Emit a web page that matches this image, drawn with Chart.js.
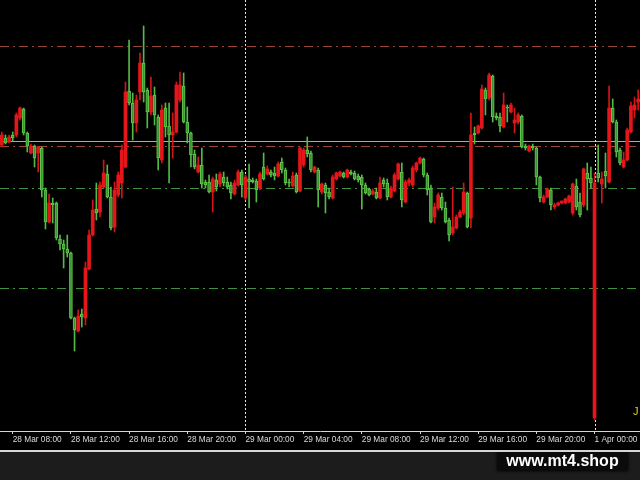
<!DOCTYPE html>
<html>
<head>
<meta charset="utf-8">
<script src="https://cdn.jsdelivr.net/npm/chart.js@4.4.0/dist/chart.umd.min.js"></script>
<style>
html, body { margin: 0; padding: 0; width: 640px; height: 480px; overflow: hidden; background: #1c1c1c; }
#wrap { position: absolute; left: 0; top: 0; width: 640px; height: 450px; background: #000; }
#sep { position: absolute; left: 0; top: 450px; width: 640px; height: 2px; background: #d6d6d6; z-index: 2; }
#mark { position: absolute; left: 497px; top: 451px; width: 131px; height: 19px; background: #0b0b0b; color: #fff;
        font: bold 16px "Liberation Sans", Arial, sans-serif; line-height: 19px; text-align: center; z-index: 1;
        box-shadow: 0 1px 3px #000; }
</style>
</head>
<body>
<div id="wrap"><canvas id="chart" width="640" height="450"></canvas></div>
<div id="sep"></div>
<div id="mark">www.mt4.shop</div>
<script>
// M15 bars, 28 Mar 07:15 -> 1 Apr 03:00 (prices in chart units)
const opens = [286,293,289,296,296,313,322,298,278,285,278,283,241,209,228,228,192,187,182,178,
  113,100,117,113,162,196,222,219,244,257,234,204,236,248,264,340,328,308,339,368,
  341,319,336,314,271,323,305,296,299,331,345,309,298,277,259,266,249,249,239,251,
  247,254,249,246,237,246,259,233,252,251,250,243,264,257,259,258,255,269,261,249,
  245,256,240,266,281,278,259,261,239,246,239,233,252,255,258,254,259,258,255,254,
  246,242,237,239,233,251,248,234,240,252,259,229,248,246,261,268,272,256,243,214,
  223,234,223,211,198,203,214,218,238,213,298,298,303,341,333,355,315,314,304,324,
  319,308,309,315,285,280,285,283,254,229,234,241,224,226,228,228,229,218,245,229,
  226,258,253,13,258,247,260,249,323,309,281,264,271,299,321,329];
const highs = [299,296,296,299,318,324,323,299,287,286,285,284,243,237,233,229,196,191,196,179,
  114,121,122,169,201,231,248,249,271,266,244,249,259,286,349,391,338,336,378,405,
  343,354,344,316,326,328,328,318,349,359,358,324,299,281,274,283,251,256,254,257,
  259,259,254,249,251,261,261,256,267,253,252,259,278,265,261,264,269,273,263,252,
  259,258,284,283,294,280,265,263,248,248,243,256,259,260,259,262,261,260,257,256,
  248,243,242,243,254,253,252,245,258,268,268,251,253,265,269,274,273,258,246,228,
  238,238,229,213,244,216,221,248,239,318,304,306,346,343,358,356,318,318,338,326,
  328,323,318,316,287,286,287,284,255,236,243,243,228,229,230,233,236,248,252,238,
  263,268,264,258,286,259,278,345,332,311,283,279,303,329,334,341];
const lows = [284,287,288,290,294,311,296,279,277,264,259,234,202,208,208,191,181,163,174,112,
  80,99,104,106,161,195,211,214,243,233,201,199,234,233,263,326,291,299,331,329,
  303,316,306,261,268,294,248,273,298,329,308,288,264,262,258,243,243,238,219,240,
  244,245,242,232,236,245,234,231,223,248,229,241,251,256,254,251,254,258,246,244,
  244,238,239,264,274,259,258,224,237,218,232,232,251,254,253,253,256,251,249,222,
  237,235,236,232,232,244,231,233,239,251,224,228,245,244,259,267,254,236,208,208,
  221,221,208,190,196,202,213,216,203,203,287,297,302,316,331,309,311,299,303,309,
  318,298,307,283,281,279,281,246,229,228,233,221,222,225,227,227,228,216,221,214,
  224,221,243,11,249,228,243,248,308,274,266,263,270,298,313,321];
const closes = [296,288,294,293,316,323,298,285,285,273,284,241,209,228,226,193,187,182,178,113,
  101,115,114,163,196,221,218,246,258,234,203,241,256,281,339,328,308,331,368,339,
  319,335,316,273,321,304,296,299,346,346,309,298,276,264,266,247,246,239,252,244,
  257,248,244,238,248,259,246,254,249,249,241,257,252,262,256,255,267,261,248,248,
  255,239,283,281,277,261,264,241,247,238,234,254,258,259,254,261,257,252,251,246,
  238,236,240,233,248,247,234,243,256,267,231,249,251,263,268,273,256,241,209,224,
  236,223,209,196,204,214,219,239,204,296,296,305,342,332,356,314,313,305,326,323,
  326,311,316,284,283,285,283,254,233,234,242,226,226,228,230,232,235,247,224,216,
  262,252,248,248,253,252,255,323,309,279,268,271,301,325,326,332];

const tickLabels = ['28 Mar 08:00', '28 Mar 12:00', '28 Mar 16:00', '28 Mar 20:00', '29 Mar 00:00',
  '29 Mar 04:00', '29 Mar 08:00', '29 Mar 12:00', '29 Mar 16:00', '29 Mar 20:00', '1 Apr 00:00'];
const tickFirst = 3, tickStep = 16;           // bar index of the first label, bars per label
const dayBreaks = ['29 Mar 00:00', '1 Apr 00:00'];

// horizontal objects
const redLevels = [385, 285];
const greenLevels = [243, 143];
const priceLine = 290;

const categories = opens.map((o, i) =>
  (i - tickFirst) % tickStep === 0 && i >= tickFirst ? tickLabels[(i - tickFirst) / tickStep] || '' : '');

const UP_FILL = '#e5161a', UP_WICK = '#d41418';
const DN_FILL = '#3b9434', DN_EDGE = '#62c84c', DN_WICK = '#52ba45';
const up = opens.map((o, i) => closes[i] >= o);

const overlay = {
  id: 'overlay',
  beforeDraw(chart) {
    const ctx = chart.ctx;
    ctx.save();
    ctx.fillStyle = '#000';
    ctx.fillRect(0, 0, chart.width, chart.height);
    ctx.restore();
  },
  beforeDatasetsDraw(chart) {
    const { ctx, chartArea: a, scales: { x, y } } = chart;
    ctx.save();
    ctx.lineWidth = 1;
    const hline = (v, color, dash) => {
      const py = Math.round(y.getPixelForValue(v)) + 0.5;
      ctx.strokeStyle = color;
      ctx.setLineDash(dash);
      ctx.beginPath();
      ctx.moveTo(a.left, py);
      ctx.lineTo(a.right, py);
      ctx.stroke();
    };
    redLevels.forEach(v => hline(v, '#9c4536', [9, 4, 2, 4]));
    greenLevels.forEach(v => hline(v, '#3c943a', [9, 4, 2, 4]));
    hline(priceLine, '#a9a9a9', []);

    // day separators
    ctx.strokeStyle = '#e6e6e6';
    ctx.setLineDash([2, 2]);
    dayBreaks.forEach(lbl => {
      const idx = categories.indexOf(lbl);
      const px = Math.round(x.getPixelForValue(idx)) + 0.5;
      ctx.beginPath();
      ctx.moveTo(px, a.top);
      ctx.lineTo(px, a.bottom);
      ctx.stroke();
    });
    ctx.restore();
  },
  afterDraw(chart) {
    const ctx = chart.ctx;
    ctx.save();
    ctx.fillStyle = '#e2cf1e';
    ctx.font = '11px "Liberation Sans", Arial, sans-serif';
    ctx.textBaseline = 'alphabetic';
    ctx.fillText('J', 633, 415);
    ctx.restore();
  }
};

new Chart(document.getElementById('chart'), {
  type: 'bar',
  data: {
    labels: categories,
    datasets: [
      {
        label: 'wick',
        data: highs.map((h, i) => [lows[i], h]),
        backgroundColor: up.map(u => u ? UP_WICK : DN_WICK),
        barThickness: 1,
        grouped: false,
        order: 2
      },
      {
        label: 'body',
        data: opens.map((o, i) => [Math.min(o, closes[i]), Math.max(o, closes[i])]),
        backgroundColor: up.map(u => u ? UP_FILL : DN_FILL),
        borderColor: up.map(u => u ? UP_FILL : DN_EDGE),
        borderWidth: up.map(u => u ? 0 : 1),
        borderSkipped: false,
        barThickness: 3,
        grouped: false,
        order: 1
      }
    ]
  },
  options: {
    responsive: false,
    animation: false,
    devicePixelRatio: 1,
    layout: { padding: { left: 0, right: 0, top: 0, bottom: 4.04 } },
    plugins: { legend: { display: false }, tooltip: { enabled: false } },
    scales: {
      x: {
        type: 'category',
        offset: true,
        grid: {
          offset: false,
          drawOnChartArea: false,
          drawTicks: true,
          tickLength: 3,
          color: c => (c.tick && c.tick.label) ? '#d4d4d4' : 'rgba(0,0,0,0)'
        },
        border: { display: true, color: '#d4d4d4', width: 1 },
        ticks: {
          autoSkip: false,
          maxRotation: 0,
          minRotation: 0,
          align: 'start',
          padding: 1,
          color: '#dadada',
          font: { family: 'Liberation Sans', size: 8.3 }
        }
      },
      y: { display: false, min: 0, max: 431 }
    }
  },
  plugins: [overlay]
});
</script>
</body>
</html>
